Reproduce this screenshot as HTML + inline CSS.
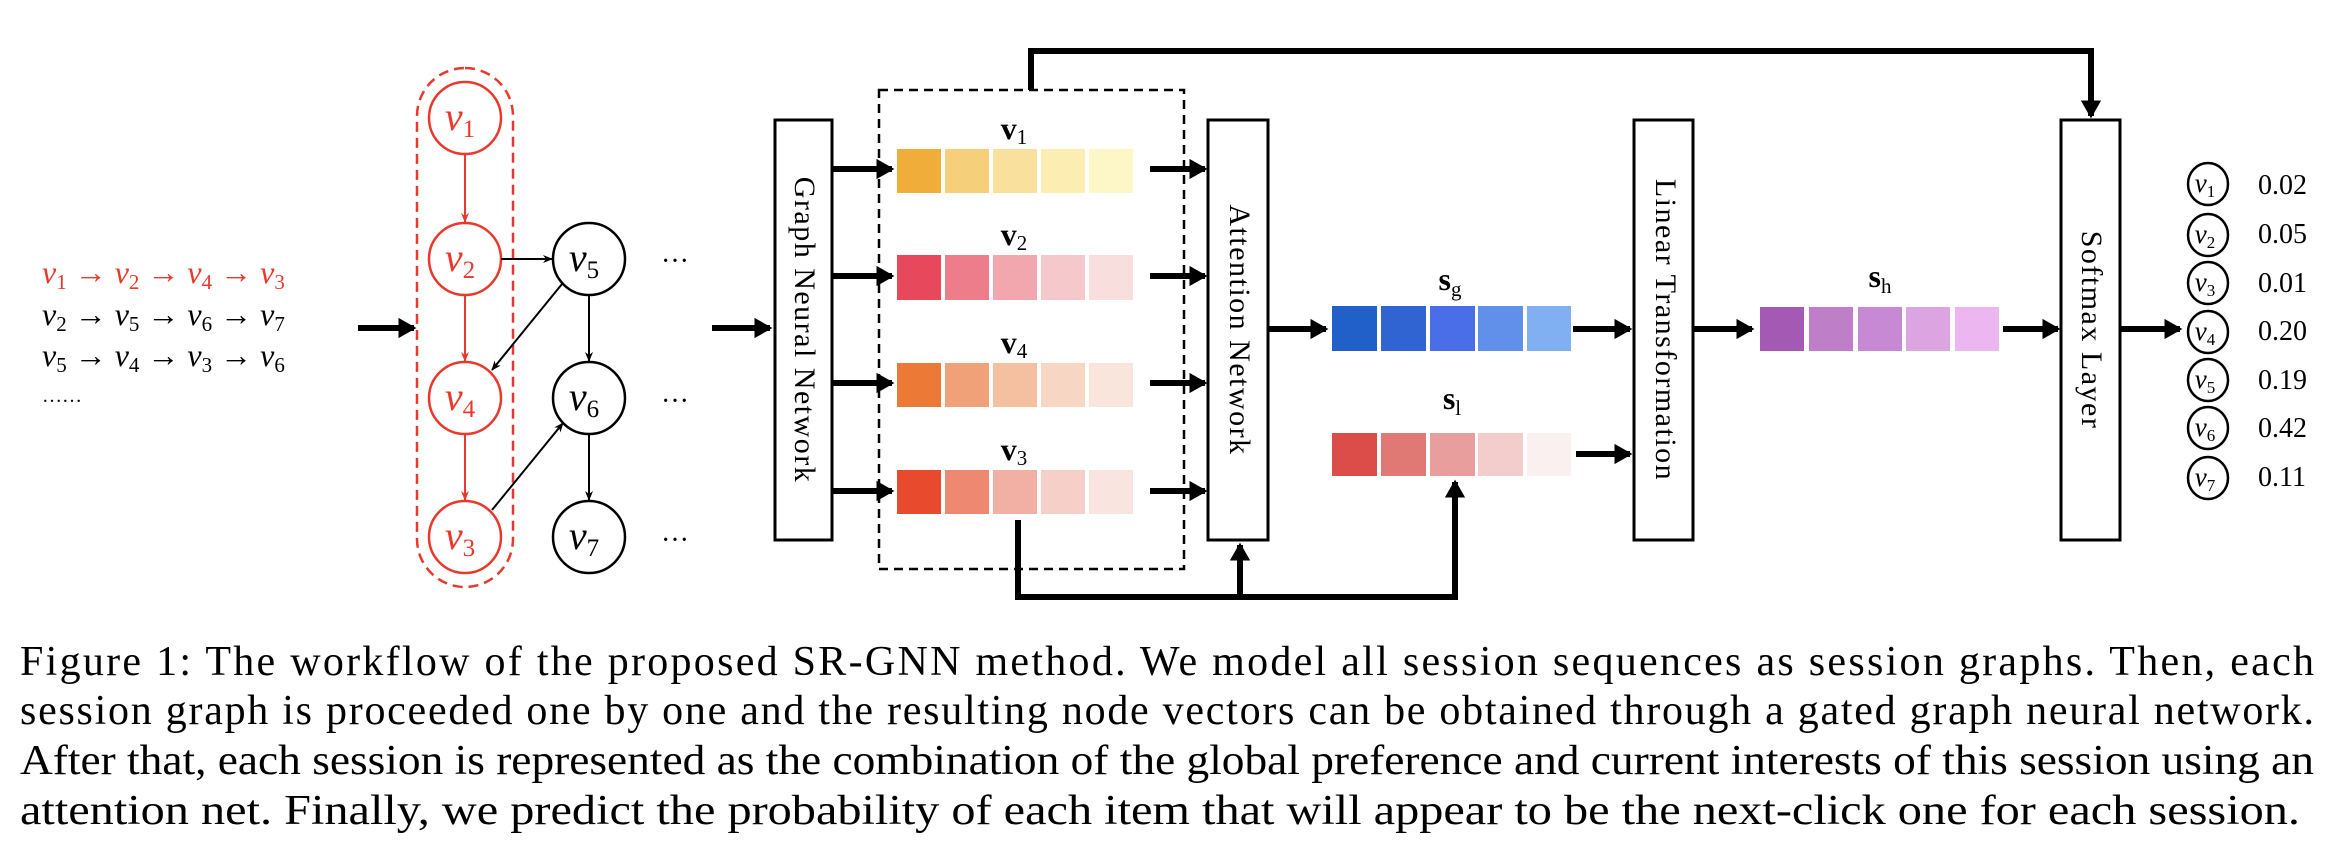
<!DOCTYPE html>
<html><head><meta charset="utf-8"><style>
html,body{margin:0;padding:0;background:#fff;}
svg{display:block;font-family:"Liberation Serif","Times New Roman",Times,serif;}
svg text{font-family:"Liberation Serif","Times New Roman",Times,serif;}
.it{font-style:italic;}
</style></head><body>
<svg width="2334" height="854" viewBox="0 0 2334 854" xmlns="http://www.w3.org/2000/svg" font-family="'Liberation Serif', 'Times New Roman', serif">
<defs>
<marker id="ah" markerWidth="4" markerHeight="4" refX="2.6" refY="2" orient="auto" markerUnits="strokeWidth"><path d="M0,0.3 L3,2 L0,3.7 Z" fill="#000"/></marker>
<marker id="sa" markerWidth="10" markerHeight="10" refX="9" refY="5" orient="auto" markerUnits="userSpaceOnUse"><path d="M0,1 L10,5 L0,9 L3,5 Z" fill="#000"/></marker>
<marker id="sr" markerWidth="10" markerHeight="10" refX="9" refY="5" orient="auto" markerUnits="userSpaceOnUse"><path d="M0,1 L10,5 L0,9 L3,5 Z" fill="#e8392c"/></marker>
</defs>

<g font-size="32" class="it">
<text x="42" y="283" fill="#e8392c">v<tspan font-size="21" font-style="normal" dy="6">1</tspan><tspan dy="-6" font-style="normal"> → </tspan>v<tspan font-size="21" font-style="normal" dy="6">2</tspan><tspan dy="-6" font-style="normal"> → </tspan>v<tspan font-size="21" font-style="normal" dy="6">4</tspan><tspan dy="-6" font-style="normal"> → </tspan>v<tspan font-size="21" font-style="normal" dy="6">3</tspan></text>
<text x="42" y="325" fill="#000">v<tspan font-size="21" font-style="normal" dy="6">2</tspan><tspan dy="-6" font-style="normal"> → </tspan>v<tspan font-size="21" font-style="normal" dy="6">5</tspan><tspan dy="-6" font-style="normal"> → </tspan>v<tspan font-size="21" font-style="normal" dy="6">6</tspan><tspan dy="-6" font-style="normal"> → </tspan>v<tspan font-size="21" font-style="normal" dy="6">7</tspan></text>
<text x="42" y="366" fill="#000">v<tspan font-size="21" font-style="normal" dy="6">5</tspan><tspan dy="-6" font-style="normal"> → </tspan>v<tspan font-size="21" font-style="normal" dy="6">4</tspan><tspan dy="-6" font-style="normal"> → </tspan>v<tspan font-size="21" font-style="normal" dy="6">3</tspan><tspan dy="-6" font-style="normal"> → </tspan>v<tspan font-size="21" font-style="normal" dy="6">6</tspan></text>
</g>
<text x="42" y="402" font-size="20">……</text>

<g stroke="#000" stroke-width="6" fill="none">
<line x1="358" y1="328" x2="414" y2="328" marker-end="url(#ah)"/>
<line x1="712" y1="328" x2="770" y2="328" marker-end="url(#ah)"/>
</g>

<rect x="417" y="68" width="96" height="519" rx="48" fill="none" stroke="#e8392c" stroke-width="2.5" stroke-dasharray="10,6"/>
<g fill="#fff" stroke="#e8392c" stroke-width="2.5">
<circle cx="465" cy="118" r="36"/><circle cx="465" cy="259" r="36"/><circle cx="465" cy="398" r="36"/><circle cx="465" cy="537" r="36"/>
</g>
<g fill="#fff" stroke="#000" stroke-width="2.5">
<circle cx="589" cy="259" r="36"/><circle cx="589" cy="398" r="36"/><circle cx="589" cy="537" r="36"/>
</g>
<g stroke="#e8392c" stroke-width="2">
<line x1="465" y1="154" x2="465" y2="222" marker-end="url(#sr)"/>
<line x1="465" y1="295" x2="465" y2="361" marker-end="url(#sr)"/>
<line x1="465" y1="434" x2="465" y2="500" marker-end="url(#sr)"/>
</g>
<g stroke="#000" stroke-width="2">
<line x1="501" y1="259" x2="552" y2="259" marker-end="url(#sa)"/>
<line x1="562" y1="284" x2="492" y2="370" marker-end="url(#sa)"/>
<line x1="492" y1="510" x2="563" y2="423" marker-end="url(#sa)"/>
<line x1="589" y1="295" x2="589" y2="361" marker-end="url(#sa)"/>
<line x1="589" y1="434" x2="589" y2="500" marker-end="url(#sa)"/>
</g>
<g font-size="40" class="it" text-anchor="middle">
<text x="460" y="130" fill="#e8392c">v<tspan font-size="25" font-style="normal" dy="7">1</tspan></text>
<text x="460" y="271" fill="#e8392c">v<tspan font-size="25" font-style="normal" dy="7">2</tspan></text>
<text x="460" y="410" fill="#e8392c">v<tspan font-size="25" font-style="normal" dy="7">4</tspan></text>
<text x="460" y="549" fill="#e8392c">v<tspan font-size="25" font-style="normal" dy="7">3</tspan></text>
<text x="584" y="271">v<tspan font-size="25" font-style="normal" dy="7">5</tspan></text>
<text x="584" y="410">v<tspan font-size="25" font-style="normal" dy="7">6</tspan></text>
<text x="584" y="549">v<tspan font-size="25" font-style="normal" dy="7">7</tspan></text>
</g>
<g font-size="28" text-anchor="middle">
<text x="675" y="270">···</text><text x="675" y="410">···</text><text x="675" y="549">···</text>
</g>

<g fill="#fff" stroke="#000" stroke-width="3">
<rect x="775" y="120" width="57" height="420"/>
<rect x="1208" y="120" width="60" height="420"/>
<rect x="1634" y="120" width="59" height="420"/>
<rect x="2061" y="120" width="59" height="420"/>
</g>
<rect x="879" y="90" width="305" height="479" fill="none" stroke="#000" stroke-width="2.5" stroke-dasharray="9,6"/>
<g font-size="30" text-anchor="middle">
<text transform="translate(795,330) rotate(90)" letter-spacing="1.5">Graph Neural Network</text>
<text transform="translate(1230,330) rotate(90)" letter-spacing="1.5">Attention Network</text>
<text transform="translate(1656,330) rotate(90)" letter-spacing="1.5">Linear Transformation</text>
<text transform="translate(2082,330) rotate(90)" letter-spacing="1.5">Softmax Layer</text>
</g>

<g>
<rect x="897" y="149" width="44" height="44" fill="#f1ad3a"/><rect x="945" y="149" width="44" height="44" fill="#f6cf7b"/><rect x="993" y="149" width="44" height="44" fill="#f9e09c"/><rect x="1041" y="149" width="44" height="44" fill="#fcedb3"/><rect x="1089" y="149" width="44" height="44" fill="#fdf6c6"/>
<rect x="897" y="255" width="44" height="45" fill="#e8485c"/><rect x="945" y="255" width="44" height="45" fill="#ee7d8c"/><rect x="993" y="255" width="44" height="45" fill="#f2a6ae"/><rect x="1041" y="255" width="44" height="45" fill="#f5c9cb"/><rect x="1089" y="255" width="44" height="45" fill="#f8dfdd"/>
<rect x="897" y="363" width="44" height="44" fill="#ec7a36"/><rect x="945" y="363" width="44" height="44" fill="#f0a177"/><rect x="993" y="363" width="44" height="44" fill="#f4c0a0"/><rect x="1041" y="363" width="44" height="44" fill="#f7d7c4"/><rect x="1089" y="363" width="44" height="44" fill="#f9e5dc"/>
<rect x="897" y="470" width="44" height="44" fill="#e84a2e"/><rect x="945" y="470" width="44" height="44" fill="#ee8870"/><rect x="993" y="470" width="44" height="44" fill="#f2b0a4"/><rect x="1041" y="470" width="44" height="44" fill="#f6cfc8"/><rect x="1089" y="470" width="44" height="44" fill="#f9e4df"/>
<rect x="1332" y="306" width="45" height="45" fill="#2160c8"/><rect x="1381" y="306" width="45" height="45" fill="#3064d2"/><rect x="1430" y="306" width="45" height="45" fill="#4a6ee8"/><rect x="1478" y="306" width="45" height="45" fill="#6090ea"/><rect x="1527" y="306" width="44" height="45" fill="#80b0f2"/>
<rect x="1332" y="433" width="45" height="43" fill="#dc4c48"/><rect x="1381" y="433" width="45" height="43" fill="#e07874"/><rect x="1430" y="433" width="45" height="43" fill="#e89e9c"/><rect x="1478" y="433" width="45" height="43" fill="#f3cccc"/><rect x="1527" y="433" width="44" height="43" fill="#fbf0f0"/>
<rect x="1760" y="307" width="44" height="44" fill="#a45ab4"/><rect x="1809" y="307" width="44" height="44" fill="#bf7fc8"/><rect x="1858" y="307" width="44" height="44" fill="#c788d4"/><rect x="1906" y="307" width="44" height="44" fill="#dca4e0"/><rect x="1955" y="307" width="44" height="44" fill="#ecb6f0"/>
</g>
<g font-size="32" font-weight="bold" text-anchor="middle">
<text x="1014" y="139">v<tspan font-size="21" font-weight="normal" dy="5">1</tspan></text>
<text x="1014" y="245">v<tspan font-size="21" font-weight="normal" dy="5">2</tspan></text>
<text x="1014" y="353">v<tspan font-size="21" font-weight="normal" dy="5">4</tspan></text>
<text x="1014" y="460">v<tspan font-size="21" font-weight="normal" dy="5">3</tspan></text>
<text x="1450" y="290">s<tspan font-size="21" font-weight="normal" dy="6">g</tspan></text>
<text x="1452" y="409">s<tspan font-size="21" font-weight="normal" dy="6">l</tspan></text>
<text x="1880" y="287">s<tspan font-size="21" font-weight="normal" dy="6">h</tspan></text>
</g>

<g stroke="#000" stroke-width="6" fill="none">
<line x1="832" y1="169" x2="892" y2="169" marker-end="url(#ah)"/>
<line x1="832" y1="276" x2="892" y2="276" marker-end="url(#ah)"/>
<line x1="832" y1="383" x2="892" y2="383" marker-end="url(#ah)"/>
<line x1="832" y1="491" x2="892" y2="491" marker-end="url(#ah)"/>
<line x1="1150" y1="169" x2="1205" y2="169" marker-end="url(#ah)"/>
<line x1="1150" y1="276" x2="1205" y2="276" marker-end="url(#ah)"/>
<line x1="1150" y1="383" x2="1205" y2="383" marker-end="url(#ah)"/>
<line x1="1150" y1="491" x2="1205" y2="491" marker-end="url(#ah)"/>
<line x1="1269" y1="329" x2="1326" y2="329" marker-end="url(#ah)"/>
<line x1="1573" y1="329" x2="1630" y2="329" marker-end="url(#ah)"/>
<line x1="1576" y1="454" x2="1630" y2="454" marker-end="url(#ah)"/>
<line x1="1693" y1="329" x2="1752" y2="329" marker-end="url(#ah)"/>
<line x1="2003" y1="329" x2="2058" y2="329" marker-end="url(#ah)"/>
<line x1="2120" y1="329" x2="2180" y2="329" marker-end="url(#ah)"/>
<polyline points="1031,90 1031,51 2091,51 2091,116" marker-end="url(#ah)"/>
<polyline points="1018,520 1018,597 1455,597 1455,482" marker-end="url(#ah)"/>
<line x1="1240" y1="597" x2="1240" y2="545" marker-end="url(#ah)"/>
</g>

<g fill="none" stroke="#000" stroke-width="2.5">
<ellipse cx="2208" cy="184" rx="20" ry="21"/><ellipse cx="2208" cy="235" rx="20" ry="21"/><ellipse cx="2208" cy="283" rx="20" ry="21"/><ellipse cx="2208" cy="332" rx="20" ry="21"/><ellipse cx="2208" cy="380" rx="20" ry="21"/><ellipse cx="2208" cy="428" rx="20" ry="21"/><ellipse cx="2208" cy="478" rx="20" ry="21"/>
</g>
<g font-size="27" class="it" text-anchor="middle">
<text x="2205" y="192">v<tspan font-size="17" font-style="normal" dy="5">1</tspan></text>
<text x="2205" y="243">v<tspan font-size="17" font-style="normal" dy="5">2</tspan></text>
<text x="2205" y="291">v<tspan font-size="17" font-style="normal" dy="5">3</tspan></text>
<text x="2205" y="340">v<tspan font-size="17" font-style="normal" dy="5">4</tspan></text>
<text x="2205" y="388">v<tspan font-size="17" font-style="normal" dy="5">5</tspan></text>
<text x="2205" y="436">v<tspan font-size="17" font-style="normal" dy="5">6</tspan></text>
<text x="2205" y="486">v<tspan font-size="17" font-style="normal" dy="5">7</tspan></text>
</g>
<g font-size="28">
<text x="2258" y="194">0.02</text><text x="2258" y="243">0.05</text><text x="2258" y="292">0.01</text><text x="2258" y="340">0.20</text><text x="2258" y="389">0.19</text><text x="2258" y="437">0.42</text><text x="2258" y="486">0.11</text>
</g>

<g font-size="42">
<text x="20" y="675" textLength="2294" lengthAdjust="spacing">Figure 1: The workflow of the proposed SR-GNN method. We model all session sequences as session graphs. Then, each</text>
<text x="20" y="724" textLength="2294" lengthAdjust="spacing">session graph is proceeded one by one and the resulting node vectors can be obtained through a gated graph neural network.</text>
<text x="20" y="774" textLength="2294" lengthAdjust="spacingAndGlyphs">After that, each session is represented as the combination of the global preference and current interests of this session using an</text>
<text x="20" y="824" textLength="2280" lengthAdjust="spacingAndGlyphs">attention net. Finally, we predict the probability of each item that will appear to be the next-click one for each session.</text>
</g>
</svg>
</body></html>
